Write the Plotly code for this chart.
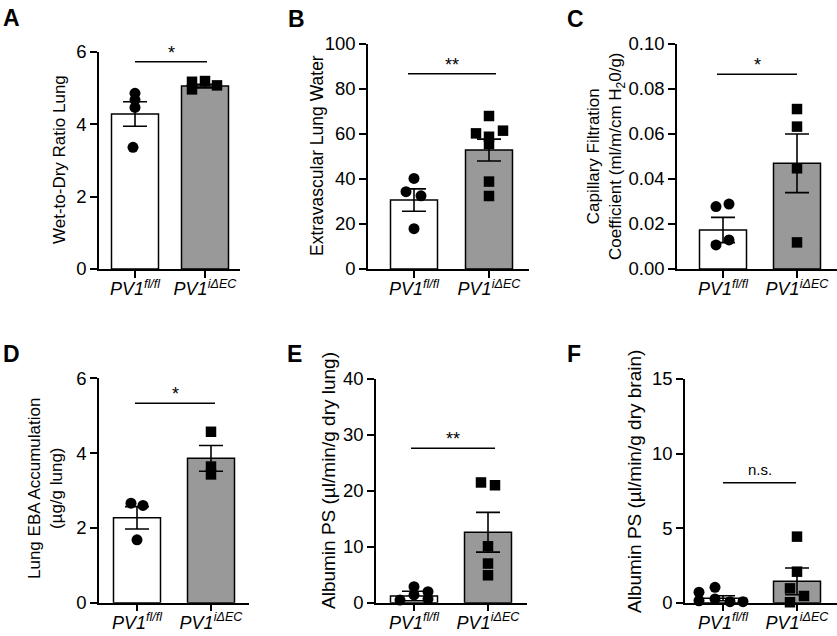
import plotly.graph_objects as go

# ---------------- data ----------------
tick_labels = ["<i>PV1<sup>fl/fl</sup></i>", "<i>PV1<sup>iΔEC</sup></i>"]

# A: Wet-to-dry ratio
a_ctrl = [4.85, 4.67, 4.46, 3.36]
a_ko = [5.17, 4.96, 5.19, 5.07]
a_mean = [4.28, 5.05]
a_sem = [0.34, 0.05]

# B: Extravascular lung water
b_ctrl = [40.2, 34.3, 32.5, 17.9]
b_ko = [67.9, 60.2, 61.4, 58.7, 55.5, 38.8, 32.4]
b_mean = [30.6, 52.8]
b_sem = [4.95, 4.85]

# C: Capillary filtration coefficient
c_ctrl = [0.0277, 0.0288, 0.0107, 0.0129]
c_ko = [0.0710, 0.0632, 0.0447, 0.0118]
c_mean = [0.0173, 0.0469]
c_sem = [0.0056, 0.0130]

# D: Lung EBA accumulation
d_ctrl = [2.66, 2.60, 1.68]
d_ko = [4.57, 3.64, 3.43]
d_mean = [2.27, 3.86]
d_sem = [0.30, 0.345]

# E: Albumin PS lung
e_ctrl = [0.48, 2.86, 1.38, 1.96, 0.66]
e_ko = [21.5, 21.0, 10.1, 7.0, 4.9]
e_mean = [1.2, 12.6]
e_sem = [0.85, 3.55]

# F: Albumin PS brain
f_ctrl = [0.70, 0.13, 1.03, 0.25, 0.07, 0.07]
f_ko = [4.43, 2.08, 0.96, 0.45, 0.03]
f_mean = [0.30, 1.43]
f_sem = [0.17, 0.90]

sig_labels = ["*", "**", "*", "*", "**", "n.s."]
sig_levels = [5.72, 86.7, 0.0864, 5.33, 27.6, 8.05]

y_titles = [
    "Wet-to-Dry Ratio Lung",
    "Extravascular Lung Water",
    "Capillary Filtration<br>Coefficient (ml/m/cm H<sub>2</sub>0/g)",
    "Lung EBA Accumulation<br>(µg/g lung)",
    "Albumin PS (µl/min/g dry lung)",
    "Albumin PS (µl/min/g dry brain)",
]
y_ticks = [
    [0, 2, 4, 6],
    [0, 20, 40, 60, 80, 100],
    [0, 0.02, 0.04, 0.06, 0.08, 0.10],
    [0, 2, 4, 6],
    [0, 10, 20, 30, 40],
    [0, 5, 10, 15],
]
letters = ["A", "B", "C", "D", "E", "F"]

# ---------------- layout constants (pixels) ----------------
W, H = 837, 636
# x0, x1 (axis extent), t0, t1 (category ticks), ybot (0), ytop (max tick)
geom = [
    (99, 240, 135, 205, 269, 51.7),
    (368, 529, 414, 489, 269, 43.7),
    (677, 837, 723, 797, 269, 43.7),
    (99, 249, 137, 211, 602.7, 378.3),
    (376, 527, 414, 488, 602.7, 379),
    (685, 837, 723, 797, 602.7, 379),
]
jitter_ctrl = [
    [0, 0, 0, -2],
    [0, -8, 7, 0],
    [-7, 6, -7, 6],
    [-6, 6, 0],
    [-14, 0, 0, 14, 14],
    [-24, -24, -8, -8, 7, 20],
]
jitter_ko = [
    [-13, -13, 0, 12],
    [0, -13, 14, 0, 0, 0, 0],
    [0, 0, 0, 0],
    [0, 0, 0],
    [-7, 7, 0, 0, 0],
    [0, 0, -7, 7, -7],
]
sig_px = [(135, 207), (408, 496), (717, 797), (135, 215), (411, 495), (723, 796)]
title_pos = [(60, 160), (317, 156), (606, 156), (45, 489), (328, 481), (634, 482)]
title_size = [17, 17.5, 17, 17, 19, 19]
letter_pos = [(1, 3), (286, 4), (565, 4), (1, 339), (285, 339), (565, 339)]

ctrls = [a_ctrl, b_ctrl, c_ctrl, d_ctrl, e_ctrl, f_ctrl]
kos = [a_ko, b_ko, c_ko, d_ko, e_ko, f_ko]
means = [a_mean, b_mean, c_mean, d_mean, e_mean, f_mean]
sems = [a_sem, b_sem, c_sem, d_sem, e_sem, f_sem]

FONT = "Liberation Sans, Arial, Helvetica, sans-serif"
BAR_PX = 47

fig = go.Figure()
layout = dict(
    width=W, height=H, template="none",
    margin=dict(l=0, r=0, t=0, b=0),
    paper_bgcolor="white", plot_bgcolor="white",
    showlegend=False, font=dict(family=FONT, color="black", size=17),
    shapes=[], annotations=[],
)

for i in range(6):
    x0, x1, t0, t1, yb, yt = geom[i]
    unit = float(t1 - t0)
    xr = [(x0 - t0) / unit, (x1 - t0) / unit]
    ymax = y_ticks[i][-1]
    n = "" if i == 0 else str(i + 1)
    xa, ya = "x" + n, "y" + n

    fig.add_trace(go.Bar(
        x=[0, 1], y=means[i], width=BAR_PX / unit,
        marker=dict(color=["white", "#999999"], line=dict(color="black", width=1.5)),
        error_y=dict(type="data", array=sems[i], visible=True, color="black",
                     thickness=1.6, width=12),
        xaxis=xa, yaxis=ya, cliponaxis=False, hoverinfo="skip",
    ))
    fig.add_trace(go.Scatter(
        x=[j / unit for j in jitter_ctrl[i]], y=ctrls[i], mode="markers",
        marker=dict(symbol="circle", size=11, color="black"),
        xaxis=xa, yaxis=ya, cliponaxis=False,
    ))
    fig.add_trace(go.Scatter(
        x=[1 + j / unit for j in jitter_ko[i]], y=kos[i], mode="markers",
        marker=dict(symbol="square", size=10.5, color="black"),
        xaxis=xa, yaxis=ya, cliponaxis=False,
    ))

    axis_common = dict(showline=True, linecolor="black", linewidth=1.5,
                       ticks="outside", ticklen=7, tickwidth=1.5, tickcolor="black",
                       showgrid=False, zeroline=False, automargin=False,
                       fixedrange=True)
    layout["xaxis" + n] = dict(
        domain=[x0 / W, x1 / W], range=xr, anchor=ya,
        tickmode="array", tickvals=[0, 1], ticktext=tick_labels,
        ticklabelstandoff=-4,
        tickfont=dict(size=18, family=FONT), **axis_common)
    layout["yaxis" + n] = dict(
        domain=[1 - yb / H, 1 - yt / H], range=[0, ymax], anchor=xa,
        tickmode="array", tickvals=y_ticks[i],
        tickformat=".2f" if i == 2 else "",
        tickfont=dict(size=18.5, family=FONT), **axis_common)

    # significance bar
    sa, sb = sig_px[i]
    layout["shapes"].append(dict(
        type="line", xref=xa, yref=ya,
        x0=(sa - t0) / unit, x1=(sb - t0) / unit,
        y0=sig_levels[i], y1=sig_levels[i],
        line=dict(color="black", width=1.5)))
    layout["annotations"].append(dict(
        xref=xa, yref=ya, x=((sa + sb) / 2 - t0) / unit, y=sig_levels[i],
        text=sig_labels[i], showarrow=False, xanchor="center", yanchor="bottom",
        yshift=-3 if sig_labels[i] != "n.s." else 3,
        font=dict(size=18 if sig_labels[i] != "n.s." else 15, family=FONT)))

    # y title
    tx, ty = title_pos[i]
    layout["annotations"].append(dict(
        xref="paper", yref="paper", x=tx / W, y=1 - ty / H,
        text=y_titles[i], textangle=-90, showarrow=False,
        xanchor="center", yanchor="middle",
        font=dict(size=title_size[i], family=FONT)))

    # panel letter
    lx, ly = letter_pos[i]
    layout["annotations"].append(dict(
        xref="paper", yref="paper", x=lx / W, y=1 - ly / H,
        text="<b>" + letters[i] + "</b>", showarrow=False,
        xanchor="left", yanchor="top",
        font=dict(size=23, family=FONT)))

fig.update_layout(**layout)
fig.write_html("out.html", config={"displayModeBar": False},
               post_script="document.body.style.margin='0';document.body.style.padding='0';")
